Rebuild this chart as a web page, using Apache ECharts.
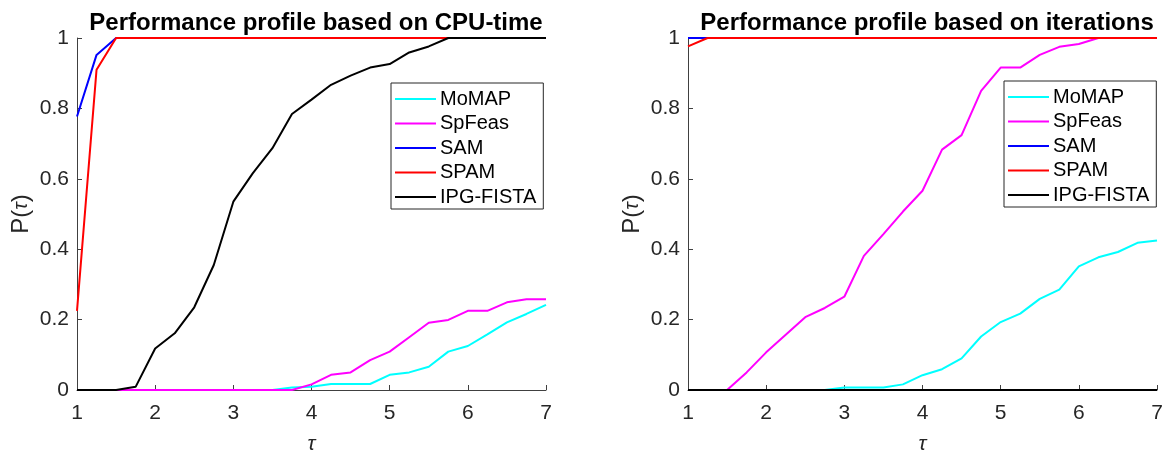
<!DOCTYPE html>
<html>
<head>
<meta charset="utf-8">
<title>Performance profiles</title>
<script src="https://cdn.jsdelivr.net/npm/echarts@6/dist/echarts.min.js"></script>
<style>
	html, body { margin: 0; padding: 0; background: #fff; }
	#main { width: 1163px; height: 453px; }
</style>
</head>
<body>
<div id="main"></div>
<script>
	// tau values (x axis), same for both plots
	var tau = [1, 1.25, 1.5, 1.75, 2, 2.25, 2.5, 2.75, 3, 3.25, 3.5, 3.75, 4, 4.25, 4.5, 4.75, 5, 5.25, 5.5, 5.75, 6, 6.25, 6.5, 6.75, 7];

	var names = ['MoMAP', 'SpFeas', 'SAM', 'SPAM', 'IPG-FISTA'];
	var colors = ['#00ffff', '#ff00ff', '#0000ff', '#ff0000', '#000000'];
	var titles = ['Performance profile based on CPU-time', 'Performance profile based on iterations'];
	var xTicks = [1, 2, 3, 4, 5, 6, 7];
	var yTicks = [0, 0.2, 0.4, 0.6, 0.8, 1];

	// left plot: CPU-time
	var cpuMoMAP = [0, 0, 0, 0, 0, 0, 0, 0, 0, 0, 0, 0.007, 0.009, 0.017, 0.017, 0.017, 0.043, 0.05, 0.066, 0.109, 0.125, 0.158, 0.192, 0.216, 0.242];
	var cpuSpFeas = [0, 0, 0, 0, 0, 0, 0, 0, 0, 0, 0, 0, 0.016, 0.043, 0.05, 0.085, 0.109, 0.15, 0.191, 0.199, 0.225, 0.225, 0.249, 0.258, 0.258];
	var cpuSAM = [0.777, 0.952, 1, 1, 1, 1, 1, 1, 1, 1, 1, 1, 1, 1, 1, 1, 1, 1, 1, 1, 1, 1, 1, 1, 1];
	var cpuSPAM = [0.225, 0.91, 1, 1, 1, 1, 1, 1, 1, 1, 1, 1, 1, 1, 1, 1, 1, 1, 1, 1, 1, 1, 1, 1, 1];
	var cpuIPG = [0, 0, 0, 0.009, 0.118, 0.161, 0.235, 0.355, 0.535, 0.616, 0.687, 0.784, 0.825, 0.867, 0.893, 0.916, 0.926, 0.959, 0.976, 1, 1, 1, 1, 1, 1];

	// right plot: iterations
	var itMoMAP = [0, 0, 0, 0, 0, 0, 0, 0, 0.007, 0.007, 0.007, 0.016, 0.042, 0.059, 0.09, 0.152, 0.193, 0.217, 0.259, 0.285, 0.351, 0.377, 0.392, 0.418, 0.425];
	var itSpFeas = [0, 0, 0, 0.05, 0.107, 0.157, 0.207, 0.233, 0.265, 0.381, 0.443, 0.507, 0.566, 0.683, 0.724, 0.85, 0.916, 0.916, 0.952, 0.975, 0.983, 1, 1, 1, 1];
	var itSAM = [1, 1, 1, 1, 1, 1, 1, 1, 1, 1, 1, 1, 1, 1, 1, 1, 1, 1, 1, 1, 1, 1, 1, 1, 1];
	var itSPAM = [0.976, 1, 1, 1, 1, 1, 1, 1, 1, 1, 1, 1, 1, 1, 1, 1, 1, 1, 1, 1, 1, 1, 1, 1, 1];
	var itIPG = [0, 0, 0, 0, 0, 0, 0, 0, 0, 0, 0, 0, 0, 0, 0, 0, 0, 0, 0, 0, 0, 0, 0, 0, 0];

	var cpuData = [cpuMoMAP, cpuSpFeas, cpuSAM, cpuSPAM, cpuIPG];
	var itData = [itMoMAP, itSpFeas, itSAM, itSPAM, itIPG];

	var font = '"Liberation Sans", Arial, sans-serif';
	var axisColor = '#404040';
	var textColor = '#262626';

	// plot areas (fixed, labels must not shrink them)
	var grids = [
		{left: 77, top: 38, width: 469, height: 352, containLabel: false, outerBoundsMode: 'none'},
		{left: 688, top: 38, width: 469, height: 352, containLabel: false, outerBoundsMode: 'none'}
	];

	function pairs(values) {
		var out = [];
		for (var i = 0; i < tau.length; i++) {
			out.push([tau[i], values[i]]);
		}
		return out;
	}

	function makeXAxis(idx) {
		return {
			type: 'value',
			gridIndex: idx,
			min: xTicks[0],
			max: xTicks[xTicks.length - 1],
			interval: 1,
			name: 'τ',
			nameLocation: 'middle',
			nameGap: 44,
			nameTextStyle: {fontFamily: font, fontSize: 21, fontStyle: 'italic', color: textColor},
			axisLine: {show: true, lineStyle: {color: axisColor, width: 1}},
			axisTick: {show: true, inside: true, length: 5, lineStyle: {color: axisColor}},
			axisLabel: {fontFamily: font, fontSize: 21, color: textColor, margin: 13},
			splitLine: {show: false}
		};
	}

	function makeYAxis(idx) {
		return {
			type: 'value',
			gridIndex: idx,
			min: yTicks[0],
			max: yTicks[yTicks.length - 1],
			interval: 0.2,
			name: '{a|P(}{b|τ}{a|)}',
			nameLocation: 'middle',
			nameRotate: 90,
			nameGap: 44,
			nameTextStyle: {
				rich: {
					a: {fontFamily: font, fontSize: 24, color: textColor},
					b: {fontFamily: font, fontSize: 20, fontStyle: 'italic', color: textColor}
				}
			},
			axisLine: {show: true, lineStyle: {color: axisColor, width: 1}},
			axisTick: {show: true, inside: true, length: 5, lineStyle: {color: axisColor}},
			axisLabel: {fontFamily: font, fontSize: 21, color: textColor, margin: 8},
			splitLine: {show: false}
		};
	}

	function makeLegend(left, top) {
		return {
			orient: 'vertical',
			left: left,
			top: top,
			data: names,
			icon: 'rect',
			itemWidth: 41,
			itemHeight: 2,
			itemGap: 0.5,
			padding: [4, 7, 0, 4],
			borderColor: '#262626',
			borderWidth: 1,
			backgroundColor: '#fff',
			selectedMode: false,
			textStyle: {fontFamily: font, fontSize: 20, color: '#000', lineHeight: 24, padding: [0, 0, 0, -1]}
		};
	}

	var series = [];
	[cpuData, itData].forEach(function (set, g) {
		for (var i = 0; i < names.length; i++) {
			series.push({
				name: names[i],
				type: 'line',
				xAxisIndex: g,
				yAxisIndex: g,
				data: pairs(set[i]),
				symbol: 'none',
				clip: false,
				color: colors[i],
				lineStyle: {color: colors[i], width: 2},
				z: 2 + i
			});
		}
	});

	var option = {
		animation: false,
		backgroundColor: '#fff',
		title: [
			{text: titles[0], left: 311, top: 6, textAlign: 'center',
				textStyle: {fontFamily: font, fontSize: 24, fontWeight: 'bold', color: '#000'}},
			{text: titles[1], left: 922, top: 6, textAlign: 'center',
				textStyle: {fontFamily: font, fontSize: 24, fontWeight: 'bold', color: '#000'}}
		],
		legend: [makeLegend(391, 83), makeLegend(1004, 81)],
		grid: grids,
		xAxis: [makeXAxis(0), makeXAxis(1)],
		yAxis: [makeYAxis(0), makeYAxis(1)],
		series: series
	};

	var myChart = echarts.init(document.getElementById('main'));
	myChart.setOption(option);
</script>
</body>
</html>
